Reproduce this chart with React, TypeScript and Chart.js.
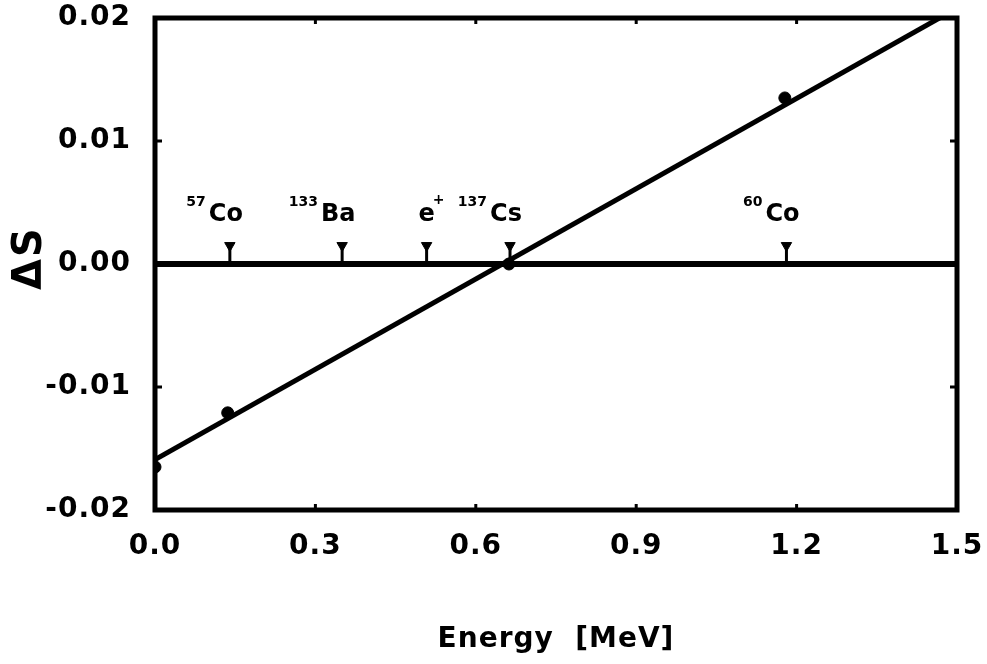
import React, { useEffect, useRef } from 'react';
import { Chart, registerables } from 'chart.js';

Chart.register(...registerables);

// ---- data ----
const measuredEnergy = [0.0, 0.136, 0.662, 1.178];
const measuredDelta = [-0.0165, -0.0121, 0.0, 0.0135];
const fitEnergy = [0.0, 1.5];
const fitDelta = [-0.0159, 0.0208];
const zeroEnergy = [0.0, 1.5];
const zeroDelta = [0.0, 0.0];
const markerEnergy = [0.14, 0.35, 0.508, 0.664, 1.181];
const markerMass = ['57', '133', '', '137', '60'];
const markerSymbol = ['Co', 'Ba', 'e', 'Cs', 'Co'];
const markerCharge = ['', '', '+', '', ''];
const markerTop = 0.0015;
const xTicks = [0.0, 0.3, 0.6, 0.9, 1.2, 1.5];
const yTicks = [-0.02, -0.01, 0.0, 0.01, 0.02];
const xTitle = 'Energy  [MeV]';
const yTitle = 'ΔS';

const FONT = '"DejaVu Sans", "Liberation Sans", Arial, sans-serif';

const decorPlugin = {
  id: 'decor',
  beforeLayout(chart: any) {
    (chart.ctx as any).letterSpacing = '1px';
  },
  beforeDraw(chart: any) {
    (chart.ctx as any).letterSpacing = '1px';
  },
  afterDatasetsDraw(chart: any) {
    const ctx = chart.ctx as any;
    const { left, right, top, bottom } = chart.chartArea;
    const xs = chart.scales.x;
    const ys = chart.scales.y;
    ctx.save();
    ctx.letterSpacing = '0px';
    // frame
    ctx.strokeStyle = '#000';
    ctx.lineWidth = 5;
    ctx.strokeRect(left, top, right - left, bottom - top);
    // inward ticks
    ctx.lineWidth = 3;
    ctx.beginPath();
    xTicks.forEach((v) => {
      const px = xs.getPixelForValue(v);
      ctx.moveTo(px, bottom);
      ctx.lineTo(px, bottom - 6);
      ctx.moveTo(px, top);
      ctx.lineTo(px, top + 6);
    });
    yTicks.forEach((v) => {
      const py = ys.getPixelForValue(v);
      ctx.moveTo(left, py);
      ctx.lineTo(left + 7, py);
      ctx.moveTo(right, py);
      ctx.lineTo(right - 7, py);
    });
    ctx.stroke();

    // marker stems and labels
    const zeroY = ys.getPixelForValue(0);
    const meta = chart.getDatasetMeta(3);
    ctx.fillStyle = '#000';
    ctx.lineWidth = 3;
    meta.data.forEach((pt: any, i: number) => {
      const px = pt.x;
      const py = pt.y;
      ctx.beginPath();
      ctx.moveTo(px, py);
      ctx.lineTo(px, zeroY);
      ctx.stroke();
      ctx.textBaseline = 'middle';
      ctx.font = `bold 24px ${FONT}`;
      ctx.letterSpacing = '0px';
      const main = markerSymbol[i];
      const w = ctx.measureText(main).width;
      const cx = markerCharge[i] ? px : px - 4;
      const mainLeft = cx - w / 2;
      ctx.textAlign = 'left';
      ctx.fillText(main, mainLeft, zeroY - 49);
      ctx.font = `bold 14px ${FONT}`;
      if (markerMass[i]) {
        ctx.textAlign = 'right';
        ctx.fillText(markerMass[i], mainLeft - 3, zeroY - 62);
      }
      if (markerCharge[i]) {
        ctx.textAlign = 'left';
        ctx.fillText(markerCharge[i], mainLeft + w - 2, zeroY - 64);
      }
    });
    ctx.restore();
  },
  afterDraw(chart: any) {
    const ctx = chart.ctx as any;
    ctx.save();
    ctx.letterSpacing = '2px';
    ctx.translate(31, chart.chartArea.top + 240);
    ctx.rotate(-Math.PI / 2);
    ctx.font = `bold 40px ${FONT}`;
    ctx.fillStyle = '#000';
    ctx.textAlign = 'center';
    ctx.textBaseline = 'middle';
    ctx.fillText(yTitle, 0, 0);
    ctx.restore();
  },
};

export default function App() {
  const ref = useRef<HTMLCanvasElement | null>(null);

  useEffect(() => {
    if (!ref.current) return;
    const chart = new Chart(ref.current, {
      type: 'line',
      data: {
        datasets: [
          {
            type: 'line',
            label: 'zero',
            data: zeroEnergy.map((x, i) => ({ x, y: zeroDelta[i] })),
            borderColor: '#000',
            borderWidth: 6,
            pointRadius: 0,
          },
          {
            type: 'line',
            label: 'fit',
            data: fitEnergy.map((x, i) => ({ x, y: fitDelta[i] })),
            borderColor: '#000',
            borderWidth: 5,
            pointRadius: 0,
          },
          {
            type: 'scatter',
            label: 'measured',
            data: measuredEnergy.map((x, i) => ({ x, y: measuredDelta[i] })),
            backgroundColor: '#000',
            borderColor: '#000',
            pointRadius: 6,
          },
          {
            type: 'scatter',
            label: 'markers',
            data: markerEnergy.map((x) => ({ x, y: markerTop })),
            backgroundColor: '#000',
            borderColor: '#000',
            pointStyle: 'triangle',
            rotation: 180,
            pointRadius: 6,
          },
        ],
      } as any,
      options: {
        animation: false,
        responsive: false,
        events: [],
        layout: { padding: { top: 18, right: 30, left: 0, bottom: 0 } },
        plugins: { legend: { display: false }, tooltip: { enabled: false } },
        scales: {
          x: {
            type: 'linear',
            min: 0,
            max: 1.5,
            grid: { display: false, drawTicks: false },
            border: { display: false },
            afterBuildTicks: (s: any) => {
              s.ticks = xTicks.map((v) => ({ value: v }));
            },
            afterFit: (s: any) => {
              s.height = 154;
              s.paddingLeft = 0;
              s.paddingRight = 0;
              s.paddingTop = 0;
              s.paddingBottom = 0;
            },
            ticks: {
              color: '#000',
              padding: 20,
              maxRotation: 0,
              font: { family: FONT, weight: 'bold', size: 28 },
              callback: (v: any) => Number(v).toFixed(1),
            },
            title: {
              display: true,
              text: xTitle,
              color: '#000',
              font: { family: FONT, weight: 'bold', size: 28 },
              padding: { top: 0, bottom: 7 },
            },
          },
          y: {
            type: 'linear',
            min: -0.02,
            max: 0.02,
            grid: { display: false, drawTicks: false },
            border: { display: false },
            afterBuildTicks: (s: any) => {
              s.ticks = yTicks.map((v) => ({ value: v }));
            },
            afterFit: (s: any) => {
              s.width = 155;
              s.paddingLeft = 0;
              s.paddingRight = 0;
              s.paddingTop = 0;
              s.paddingBottom = 0;
            },
            ticks: {
              color: '#000',
              padding: 24,
              font: { family: FONT, weight: 'bold', size: 28 },
              callback: (v: any) => Number(v).toFixed(2),
            },
          },
        },
      } as any,
      plugins: [decorPlugin],
    });
    return () => chart.destroy();
  }, []);

  return (
    <div style={{ position: 'absolute', left: 0, top: 0, width: 987, height: 664, background: '#fff' }}>
      <canvas ref={ref} width={987} height={664} style={{ display: 'block' }} />
    </div>
  );
}
